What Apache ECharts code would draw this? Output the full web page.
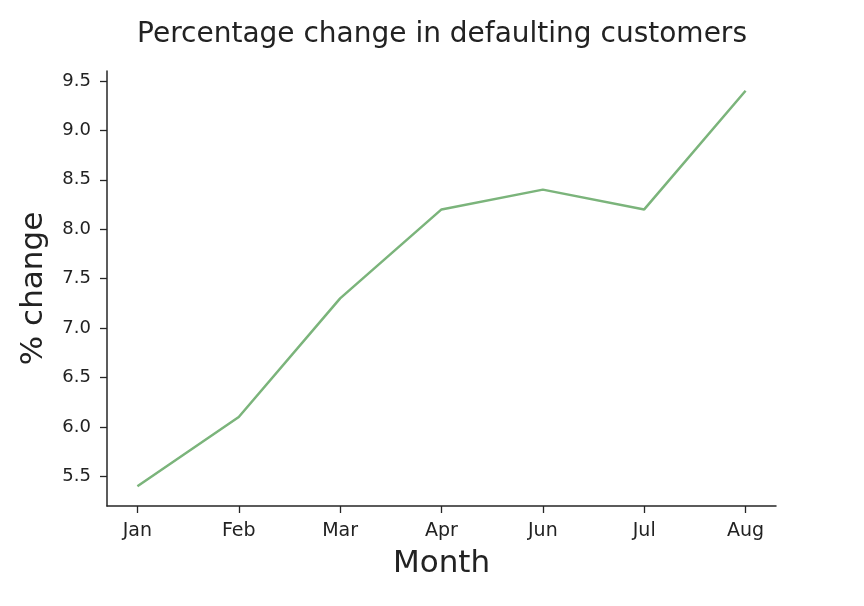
<!DOCTYPE html>
<html>
<head>
<meta charset="utf-8">
<script src="https://cdn.jsdelivr.net/npm/echarts@6/dist/echarts.min.js"></script>
<style>
  html, body { margin: 0; padding: 0; background: #fff; }
  #chart { width: 864px; height: 606px; }
</style>
</head>
<body>
<div id="chart"></div>
<script>
// data
var months = ['Jan', 'Feb', 'Mar', 'Apr', 'Jun', 'Jul', 'Aug'];
var pctChange = [5.4, 6.1, 7.3, 8.2, 8.4, 8.2, 9.4];
var yTicks = [5.5, 6.0, 6.5, 7.0, 7.5, 8.0, 8.5, 9.0, 9.5];

var chart = echarts.init(document.getElementById('chart'));
var font = 'DejaVu Sans';
var axisColor = '#262626';

// x positions are category indices, plotted on a value axis so the ends get a 5% margin like matplotlib
var xIdx = months.map(function (m, i) { return i; });
var seriesData = pctChange.map(function (v, i) { return [i, v]; });

var option = {
    backgroundColor: '#fff',
    animation: false,
    title: {
        text: 'Percentage change in defaulting customers',
        left: 437,
        textAlign: 'center',
        top: 16,
        textStyle: { fontFamily: font, fontSize: 28, fontWeight: 'normal', color: '#222' }
    },
    grid: { left: 107, right: 88, top: 71, bottom: 100 },
    xAxis: {
        type: 'value',
        min: -0.3,
        max: 6.3,
        name: 'Month',
        nameLocation: 'middle',
        nameGap: 42,
        nameTextStyle: { fontFamily: font, fontSize: 31, color: '#222' },
        splitLine: { show: false },
        axisLine: { show: true, onZero: false, lineStyle: { color: axisColor, width: 1.5 } },
        axisTick: { show: true, inside: false, customValues: xIdx, length: 7, lineStyle: { color: axisColor, width: 1.3 } },
        axisLabel: {
            customValues: xIdx,
            margin: 16,
            fontFamily: font, fontSize: 19, color: '#222',
            formatter: function (v) { return months[Math.round(v)]; }
        }
    },
    yAxis: {
        type: 'value',
        min: 5.2,
        max: 9.6,
        name: '% change',
        nameLocation: 'middle',
        nameGap: 58,
        nameTextStyle: { fontFamily: font, fontSize: 31, color: '#222' },
        splitLine: { show: false },
        axisLine: { show: true, onZero: false, lineStyle: { color: axisColor, width: 1.5 } },
        axisTick: { show: true, inside: false, customValues: yTicks, length: 7, lineStyle: { color: axisColor, width: 1.3 } },
        axisLabel: {
            customValues: yTicks,
            margin: 16,
            fontFamily: font, fontSize: 18, color: '#222',
            formatter: function (v) { return v.toFixed(1); }
        }
    },
    series: [{
        type: 'line',
        data: seriesData,
        symbol: 'none',
        lineStyle: { color: '#7bb47b', width: 2.5 }
    }]
};
chart.setOption(option);
</script>
</body>
</html>
